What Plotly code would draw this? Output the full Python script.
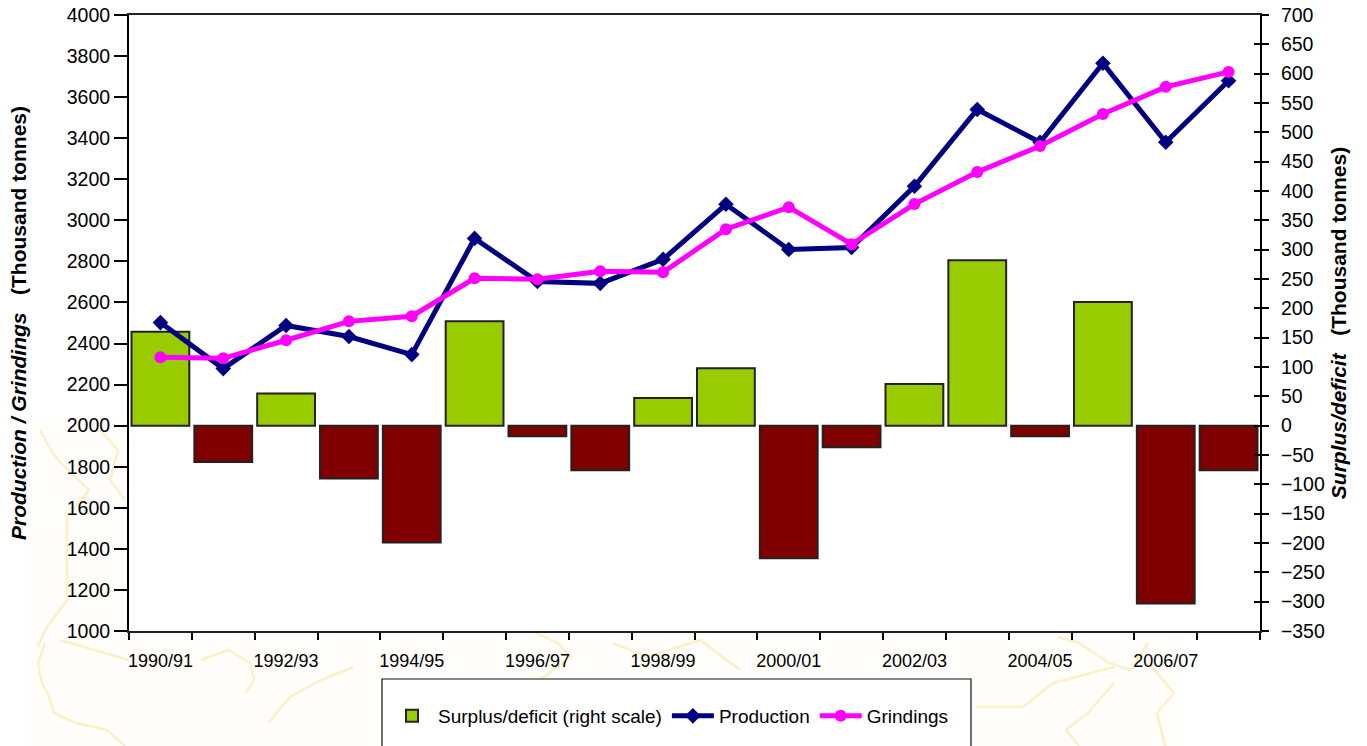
import plotly.graph_objects as go

categories = ["1990/91","1991/92","1992/93","1993/94","1994/95","1995/96","1996/97","1997/98","1998/99",
              "1999/00","2000/01","2001/02","2002/03","2003/04","2004/05","2005/06","2006/07","2007/08"]
tick_labels = [c if i % 2 == 0 else "" for i, c in enumerate(categories)]
surplus = [160,-62,55,-90,-199,178,-18,-76,47,98,-226,-37,71,282,-18,211,-303,-76]
production = [2502,2278,2488,2434,2346,2912,2702,2693,2810,3078,2858,2868,3166,3540,3380,3765,3380,3680]
grindings = [2333,2328,2416,2508,2533,2718,2713,2752,2747,2957,3064,2884,3079,3235,3362,3518,3650,3723]

FONT = "Liberation Sans"
W, H = 1367, 746
L, R, T, B = 129, 1260, 15, 631
bar_colors = ["#99CC00" if v >= 0 else "#800000" for v in surplus]

# faint backdrop map outlines, in page pixels (decoration only, not data)
map_outlines = [
    [(40,430),(49,447),(58,460),(71,473),(89,490),(67,517),(67,563),(67,600),(45,630),(38,647)],
    [(45,643),(38,663),(42,683),(49,697),(54,713),(76,723),(107,730),(125,746)],
    [(201,660),(228,650),(250,663),(254,680),(246,693)],
    [(268,723),(290,697),(321,680),(353,667)],
    [(536,633),(558,643),(571,657),(540,680)],
    [(612,643),(647,657),(700,640),(740,670)],
    [(976,707),(1023,707),(1053,683),(1114,667)],
    [(1058,637),(1079,643),(1109,663),(1131,670),(1148,643)],
    [(1148,663),(1174,693),(1157,713),(1165,746)],
    [(1114,683),(1088,713),(1066,730),(1079,746)],
    [(100,430),(118,450),(110,480),(125,500)],
    [(60,640),(129,660)],
]

def px(x, y):
    return (x - L) / (R - L), (B - y) / (B - T)

def path(points):
    return "M" + " L".join("%.4f,%.4f" % px(*p) for p in points)

shapes = [dict(type="rect", xref="paper", yref="paper", x0=px(28,0)[0], x1=px(1180,0)[0],
               y0=px(0,420)[1], y1=px(0,760)[1], line=dict(width=0), fillcolor="#fffefa", layer="below")]
shapes += [dict(type="path", xref="paper", yref="paper", path=path(p),
                line=dict(color="#fbf1c8", width=2.5), layer="below") for p in map_outlines]
shapes += [dict(type="rect", xref="paper", yref="paper", x0=0, x1=1, y0=0, y1=1,
                line=dict(width=0), fillcolor="#ffffff", layer="below"),
           dict(type="rect", xref="paper", yref="paper", x0=px(382,0)[0], x1=px(971,0)[0],
                y0=px(0,679)[1], y1=px(0,770)[1], line=dict(color="#111111", width=1.2),
                fillcolor="#ffffff", layer="below")]

fig = go.Figure()
fig.add_trace(go.Bar(x=categories, y=surplus, name="Surplus/deficit (right scale)", yaxis="y2",
                     marker=dict(color=bar_colors, line=dict(color="#222222", width=2)), width=0.92))
fig.add_trace(go.Scatter(x=categories, y=production, name="Production", mode="lines+markers",
                         line=dict(color="#000080", width=5),
                         marker=dict(symbol="diamond", size=12, color="#000080")))
fig.add_trace(go.Scatter(x=categories, y=grindings, name="Grindings", mode="lines+markers",
                         line=dict(color="#FF00FF", width=5),
                         marker=dict(symbol="circle", size=12, color="#FF00FF")))
# carries the inward half of the right axis' crossing ticks
fig.add_trace(go.Scatter(x=categories[:1], y=[None], yaxis="y3", showlegend=False, hoverinfo="skip"))

tick = dict(tickwidth=1.5, tickcolor="#000000", showgrid=False, zeroline=False)

fig.update_layout(
    width=W, height=H, autosize=False,
    margin=dict(l=L, r=W-R, t=T, b=H-B, pad=0),
    paper_bgcolor="#ffffff", plot_bgcolor="#ffffff",
    font=dict(family=FONT, size=19.5, color="#000000"),
    barmode="overlay",
    xaxis=dict(type="category", categoryorder="array", categoryarray=categories,
               tickmode="array", tickvals=categories, ticktext=tick_labels, tickson="boundaries",
               ticks="outside", ticklen=7, tickfont=dict(size=18), tickangle=0, ticklabelstandoff=12,
               showline=True, linecolor="#222222", linewidth=2, mirror=True, automargin=False,
               range=[-0.5, 17.5], **tick),
    yaxis=dict(range=[1000, 4000], dtick=200, tick0=1000, overlaying="y2", side="left",
               ticks="outside", ticklen=13, showline=True, linecolor="#000000", linewidth=2,
               automargin="left",
               title=dict(text="<b><i>Production / Grindings</i>&nbsp;&nbsp; (Thousand tonnes)</b>",
                          font=dict(size=21), standoff=34), **tick),
    yaxis2=dict(range=[-350, 700], dtick=50, tick0=-350, side="right",
                ticks="outside", ticklen=7, ticklabelstandoff=8,
                showline=True, linecolor="#000000", linewidth=2, automargin="right",
                title=dict(text="<b><i>Surplus/deficit</i>&nbsp;&nbsp; (Thousand tonnes)</b>",
                           font=dict(size=21), standoff=7), **tick),
    yaxis3=dict(range=[-350, 700], dtick=50, tick0=-350, side="right", overlaying="y2",
                ticks="inside", ticklen=6, showticklabels=False, automargin=False, **tick),
    legend=dict(orientation="h", xref="paper", x=px(386,0)[0], xanchor="left",
                yref="container", y=1-716/H, yanchor="middle",
                bgcolor="rgba(0,0,0,0)", font=dict(size=19), itemwidth=42, tracegroupgap=0),
    shapes=shapes,
)
fig.write_html("out.html", config={"displayModeBar": False},
               post_script="document.body.style.margin='0';document.body.style.overflow='hidden';")
